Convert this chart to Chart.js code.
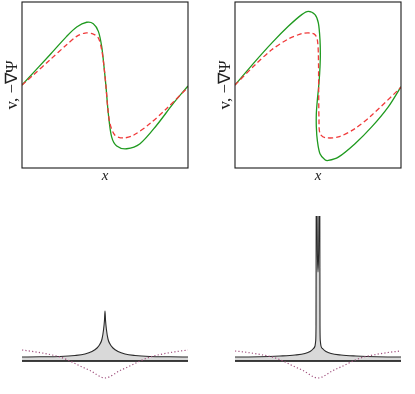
<!DOCTYPE html>
<html>
<head>
<meta charset="utf-8">
<script src="https://cdn.jsdelivr.net/npm/chart.js@4/dist/chart.umd.min.js"></script>
<style>
html,body{margin:0;padding:0;background:#fff;}
#wrap{position:relative;width:415px;height:394px;}
canvas{position:absolute;left:0;top:0;}
</style>
</head>
<body>
<div id="wrap">
<canvas id="c1" width="415" height="394"></canvas>
<canvas id="c2" width="415" height="394"></canvas>
<canvas id="c3" width="415" height="394"></canvas>
<canvas id="c4" width="415" height="394"></canvas>
</div>
<script>
// ---- Top-left panel: v (green) and -grad Psi (red dashed)
const tlGreenX = [-1,-0.663,-0.462,-0.341,-0.221,-0.141,-0.080,-0.040,-0.012,0.012,0.040,0.080,0.141,0.261,0.422,0.622,0.823,1];
const tlGreenY = [0,0.364,0.586,0.699,0.756,0.739,0.646,0.465,0.222,-0.020,-0.343,-0.626,-0.735,-0.768,-0.707,-0.485,-0.222,-0.012];
const tlRedX = [-1,-0.864,-0.663,-0.462,-0.341,-0.241,-0.141,-0.080,-0.040,-0.012,0.012,0.032,0.060,0.120,0.221,0.341,0.542,0.743,1];
const tlRedY = [0,0.121,0.303,0.485,0.586,0.626,0.614,0.566,0.424,0.222,-0.020,-0.263,-0.465,-0.606,-0.638,-0.606,-0.465,-0.283,-0.028];

// ---- Top-right panel
const trGreenX = [-1,-0.759,-0.558,-0.358,-0.196,-0.117,-0.036,0.004,0.024,0.028,0.020,0.008,-0.008,-0.020,-0.020,-0.008,0.024,0.084,0.124,0.245,0.446,0.647,0.847,1];
const trGreenY = [0,0.282,0.505,0.707,0.848,0.888,0.848,0.748,0.545,0.343,0.141,-0.020,-0.182,-0.343,-0.505,-0.667,-0.828,-0.901,-0.909,-0.869,-0.707,-0.505,-0.263,-0.020];
const trRedX = [-1,-0.759,-0.558,-0.358,-0.196,-0.096,-0.036,-0.008,0.004,0.008,0.012,0.024,0.084,0.245,0.446,0.647,1];
const trRedY = [0,0.242,0.424,0.554,0.618,0.626,0.606,0.545,0.384,-0.020,-0.424,-0.586,-0.634,-0.626,-0.525,-0.364,-0.028];

// ---- Bottom-left panel: density (grey filled), potential (dotted)
const blDensX = [-1,-0.783,-0.542,-0.361,-0.241,-0.157,-0.096,-0.060,-0.036,-0.018,-0.006,0,0.006,0.018,0.036,0.060,0.096,0.157,0.241,0.361,0.542,0.783,1];
const blDensY = [0.4,0.42,0.45,0.55,0.7,0.95,1.3,1.7,2.2,3.1,4.1,5.0,4.1,3.1,2.2,1.7,1.3,0.95,0.7,0.55,0.45,0.42,0.4];
const blPotX = [-1,-0.843,-0.663,-0.542,-0.422,-0.325,-0.181,0,0.181,0.325,0.422,0.542,0.663,0.843,1];
const blPotY = [1.1,0.92,0.65,0.4,0.0,-0.4,-0.95,-1.7,-0.95,-0.4,0.0,0.4,0.65,0.92,1.1];

// ---- Bottom-right panel
const brDensX = [-1,-0.699,-0.458,-0.277,-0.157,-0.096,-0.060,-0.036,-0.028,-0.024,-0.022,-0.018,-0.008,0,0.008,0.018,0.022,0.024,0.028,0.036,0.060,0.096,0.157,0.277,0.458,0.699,1];
const brDensY = [0.4,0.42,0.5,0.6,0.75,0.95,1.2,1.5,2.0,3.5,14.5,21,11.1,8.9,11.1,21,14.5,3.5,2.0,1.5,1.2,0.95,0.75,0.6,0.5,0.42,0.4];
const brPotX = [-1,-0.843,-0.663,-0.542,-0.422,-0.325,-0.181,0,0.181,0.325,0.422,0.542,0.663,0.843,1];
const brPotY = [1.0,0.85,0.6,0.38,0.0,-0.4,-0.95,-1.7,-0.95,-0.4,0.0,0.38,0.6,0.85,1.0];

const baseX = [-1, 1];
const baseY = [0, 0];

function pts(xs, ys){ return xs.map((x,i)=>({x:x, y:ys[i]})); }

const boxPlugin = {
  id:'box',
  afterDraw(chart){
    const a = chart.chartArea, ctx = chart.ctx;
    ctx.save();
    ctx.strokeStyle = '#1a1a1a';
    ctx.lineWidth = 1.1;
    ctx.strokeRect(a.left, a.top, a.right - a.left, a.bottom - a.top);
    ctx.restore();
  }
};

const GREEN = '#1f9a1f';
const RED = '#f03a3a';

function topChart(id, padLeft, padRight, gx, gy, rx, ry){
  return new Chart(document.getElementById(id), {
    type:'scatter',
    data:{datasets:[
      {data:pts(rx, ry), showLine:true, tension:0.3, borderColor:RED, borderWidth:1.3, borderDash:[5,3], pointRadius:0, order:1},
      {data:pts(gx, gy), showLine:true, tension:0.3, borderColor:GREEN, borderWidth:1.3, pointRadius:0, order:2}
    ]},
    options:{
      responsive:false, animation:false, devicePixelRatio:1,
      layout:{padding:{left:padLeft, right:padRight, top:2, bottom:197}},
      plugins:{legend:{display:false}, tooltip:{enabled:false}},
      scales:{
        x:{type:'linear', min:-1, max:1, ticks:{display:false}, grid:{display:false}, border:{display:false},
           title:{display:true, text:'x', color:'#222', font:{family:'Liberation Serif', style:'italic', size:15}, padding:{top:0,bottom:12}},
           afterFit:(s)=>{ s.height = 29; }},
        y:{type:'linear', min:-1, max:1, ticks:{display:false}, grid:{display:false}, border:{display:false},
           title:{display:true, text:'v, −∇Ψ', color:'#222', font:{family:'Liberation Serif', size:17}, padding:{top:2,bottom:0}},
           afterFit:(s)=>{ s.width = 22; }}
      }
    },
    plugins:[boxPlugin]
  });
}

function bottomChart(id, padLeft, padRight, dx, dy, px, py){
  return new Chart(document.getElementById(id), {
    type:'scatter',
    data:{datasets:[
      {data:pts(px, py), showLine:true, cubicInterpolationMode:'monotone', borderColor:'#a0507e', borderWidth:1.2, borderDash:[1.2,2.2], pointRadius:0, order:1},
      {data:pts(baseX, baseY), showLine:true, borderColor:'#000', borderWidth:1.3, pointRadius:0, order:2},
      {data:pts(dx, dy), showLine:true, cubicInterpolationMode:'monotone', borderColor:'#2a2a2a', borderWidth:1.1, backgroundColor:'#d9d9d9', fill:'origin', pointRadius:0, order:3}
    ]},
    options:{
      responsive:false, animation:false, devicePixelRatio:1,
      layout:{padding:{left:padLeft, right:padRight, top:216, bottom:14}},
      plugins:{legend:{display:false}, tooltip:{enabled:false}},
      scales:{
        x:{type:'linear', display:false, min:-1, max:1},
        y:{type:'linear', display:false, min:-1.9, max:14.5}
      }
    }
  });
}

topChart('c1', 0, 227, tlGreenX, tlGreenY, tlRedX, tlRedY);
topChart('c2', 213, 14, trGreenX, trGreenY, trRedX, trRedY);
bottomChart('c3', 22, 227, blDensX, blDensY, blPotX, blPotY);
bottomChart('c4', 235, 14, brDensX, brDensY, brPotX, brPotY);
</script>
</body>
</html>
